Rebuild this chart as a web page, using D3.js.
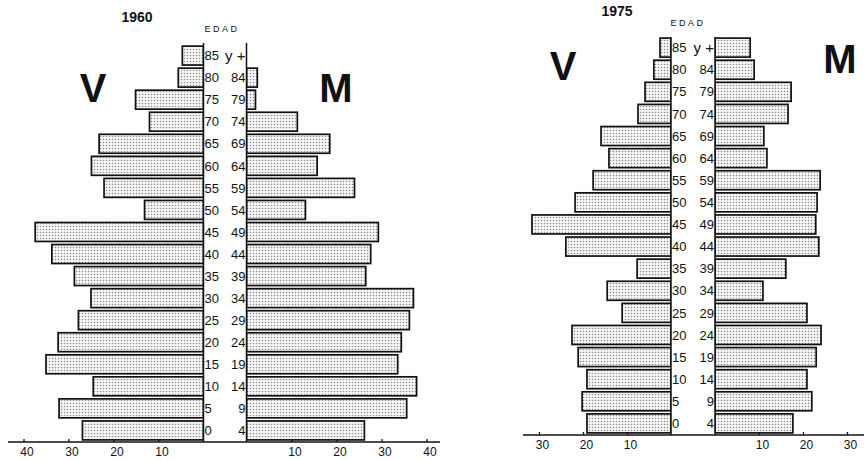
<!DOCTYPE html>
<html>
<head>
<meta charset="utf-8">
<script src="https://cdn.jsdelivr.net/npm/d3@7"></script>
<style>
  html, body { margin: 0; padding: 0; background: #fff; }
  svg { display: block; }
  text { font-family: "Liberation Sans", Arial, sans-serif; fill: #111; }
</style>
</head>
<body>
<svg id="chart" width="868" height="460"></svg>
<script>
// ---- data ----
const ageStart = ["0", "5", "10", "15", "20", "25", "30", "35", "40", "45", "50", "55", "60", "65", "70", "75", "80", "85"];
const ageEnd   = ["4", "9", "14", "19", "24", "29", "34", "39", "44", "49", "54", "59", "64", "69", "74", "79", "84", "y +"];
const years = ["1960", "1975"];
const v1960 = [26.9, 32.1, 24.5, 35.0, 32.3, 27.8, 25.0, 28.7, 33.7, 37.4, 13.1, 22.1, 24.9, 23.2, 12.0, 15.1, 5.6, 4.7];
const m1960 = [26.2, 35.6, 37.8, 33.6, 34.4, 36.2, 37.1, 26.5, 27.6, 29.3, 13.1, 24.0, 15.7, 18.5, 11.3, 2.0, 2.4, 0];
const v1975 = [19.1, 20.2, 19.1, 21.1, 22.5, 11.1, 14.5, 7.7, 23.9, 31.6, 21.8, 17.7, 14.1, 15.9, 7.5, 5.9, 3.9, 2.5];
const m1975 = [17.7, 22.0, 20.9, 23.0, 24.1, 20.9, 10.9, 16.1, 23.6, 22.9, 23.2, 23.9, 11.8, 11.1, 16.6, 17.3, 8.9, 8.0];
const ticks1960 = [10, 20, 30, 40];
const ticks1975 = [10, 20, 30];
const sideLabels = ["V", "M"];
const ageTitle = "EDAD";

// ---- layout (positions / sizes only) ----
const panels = [
  { year: years[0], v: v1960, m: m1960, ticks: ticks1960,
    zeroL: 203.5, zeroR: 246.5, ppu: 4.5, bandTop: 45, bandBottom: 441,
    axisY: 442, axisX1: 8, axisX2: 440, colTop: 43,
    yearX: 137, yearY: 22, edadX: 222, edadY: 32,
    vX: 93, vY: 102, mX: 336, mY: 102 },
  { year: years[1], v: v1975, m: m1975, ticks: ticks1975,
    zeroL: 671, zeroR: 715, ppu: 4.4, bandTop: 37, bandBottom: 434,
    axisY: 435, axisX1: 523, axisX2: 864, colTop: 37,
    yearX: 617, yearY: 16, edadX: 688, edadY: 26,
    vX: 563, vY: 80, mX: 840, mY: 73 }
];

const svg = d3.select("#chart");
const defs = svg.append("defs");
const pat = defs.append("pattern").attr("id", "dots")
  .attr("width", 3).attr("height", 3).attr("patternUnits", "userSpaceOnUse");
pat.append("rect").attr("width", 3).attr("height", 3).attr("fill", "#f4f4f4");
pat.append("circle").attr("cx", 1.5).attr("cy", 1.5).attr("r", 0.75).attr("fill", "#8a8a8a");

panels.forEach(p => {
  const g = svg.append("g");
  const y = d3.scaleBand().domain(ageStart.slice().reverse())
    .range([p.bandTop, p.bandBottom]).paddingInner(0.14).paddingOuter(0.05);
  const xL = d3.scaleLinear().domain([0, 40]).range([p.zeroL, p.zeroL - 40 * p.ppu]);
  const xR = d3.scaleLinear().domain([0, 40]).range([p.zeroR, p.zeroR + 40 * p.ppu]);

  // bars, left (V)
  g.selectAll("rect.v").data(p.v).join("rect").attr("class", "v")
    .attr("x", d => xL(d)).attr("width", d => xL(0) - xL(d))
    .attr("y", (d, i) => y(ageStart[i])).attr("height", y.bandwidth())
    .attr("fill", "url(#dots)").attr("stroke", "#111").attr("stroke-width", 1.7);
  // bars, right (M)
  g.selectAll("rect.m").data(p.m.map((d, i) => ({ d, i })).filter(o => o.d > 0)).join("rect").attr("class", "m")
    .attr("x", o => xR(0)).attr("width", o => xR(o.d) - xR(0))
    .attr("y", o => y(ageStart[o.i])).attr("height", y.bandwidth())
    .attr("fill", "url(#dots)").attr("stroke", "#111").attr("stroke-width", 1.7);

  // central column
  g.append("rect").attr("x", xL(0)).attr("y", p.colTop)
    .attr("width", xR(0) - xL(0)).attr("height", p.axisY - p.colTop).attr("fill", "#fff");
  [xL(0), xR(0)].forEach(x => g.append("line")
    .attr("x1", x).attr("x2", x).attr("y1", p.colTop).attr("y2", p.axisY)
    .attr("stroke", "#111").attr("stroke-width", 1.5));

  // age labels
  g.selectAll("text.as").data(ageStart).join("text").attr("class", "as")
    .attr("x", xL(0) + 1).attr("y", d => y(d) + y.bandwidth() / 2)
    .attr("dy", "0.36em").attr("font-size", 13).text(d => d);
  g.selectAll("text.ae").data(ageEnd).join("text").attr("class", "ae")
    .attr("x", xR(0) - 1).attr("y", (d, i) => y(ageStart[i]) + y.bandwidth() / 2)
    .attr("dy", "0.36em").attr("text-anchor", "end")
    .attr("font-size", (d, i) => i === ageEnd.length - 1 ? 15 : 13).text(d => d);

  // baseline
  g.append("line").attr("x1", p.axisX1).attr("x2", p.axisX2)
    .attr("y1", p.axisY).attr("y2", p.axisY).attr("stroke", "#111").attr("stroke-width", 1.3);

  // axes
  const axL = g.append("g").attr("transform", `translate(0,${p.axisY})`)
    .call(d3.axisBottom(xL).tickValues(p.ticks).tickSizeInner(-3).tickSizeOuter(0).tickPadding(5));
  const axR = g.append("g").attr("transform", `translate(0,${p.axisY})`)
    .call(d3.axisBottom(xR).tickValues(p.ticks).tickSizeInner(-3).tickSizeOuter(0).tickPadding(5));
  [axL, axR].forEach(a => {
    a.select(".domain").remove();
    a.selectAll(".tick line").attr("stroke", "#111").attr("stroke-width", 1.3);
    a.selectAll(".tick text").attr("font-size", 12).attr("fill", "#111")
      .attr("font-family", "'Liberation Sans', Arial, sans-serif").attr("dx", 3);
  });

  // titles
  g.append("text").attr("x", p.yearX).attr("y", p.yearY).attr("text-anchor", "middle")
    .attr("font-size", 14).attr("font-weight", "bold").text(p.year);
  g.append("text").attr("x", p.edadX).attr("y", p.edadY).attr("text-anchor", "middle")
    .attr("font-size", 9).attr("letter-spacing", 2.5).text(ageTitle);
  g.append("text").attr("x", p.vX).attr("y", p.vY).attr("text-anchor", "middle")
    .attr("font-size", 40).attr("font-weight", "bold").text(sideLabels[0]);
  g.append("text").attr("x", p.mX).attr("y", p.mY).attr("text-anchor", "middle")
    .attr("font-size", 40).attr("font-weight", "bold").text(sideLabels[1]);
});
</script>
</body>
</html>
